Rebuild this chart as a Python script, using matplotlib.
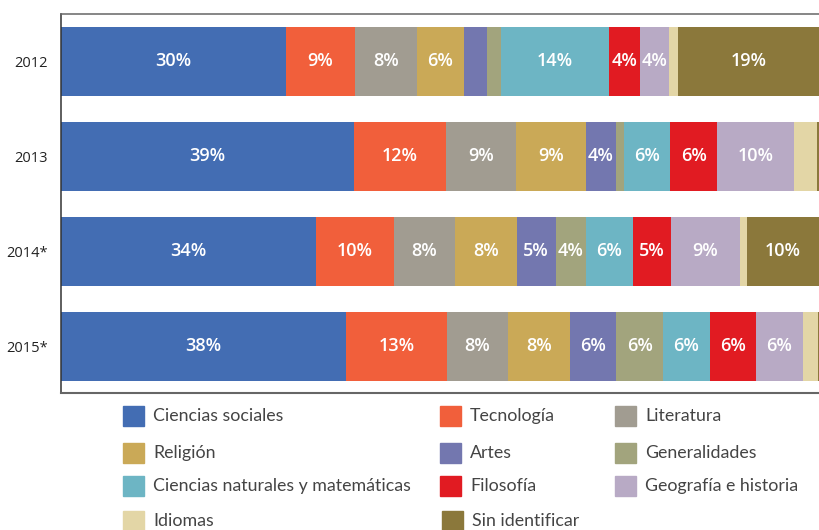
import numpy as np
import matplotlib.pyplot as plt
from matplotlib.patches import Rectangle

years = ["2012", "2013", "2014*", "2015*"]
categorias = ["Ciencias sociales", "Tecnología", "Literatura", "Religión", "Artes",
              "Generalidades", "Ciencias naturales y matemáticas", "Filosofía",
              "Geografía e historia", "Idiomas", "Sin identificar"]
colores = ["#436DB3", "#F15F3B", "#A19C91", "#CAA957", "#7377AF", "#A2A47D",
           "#6DB5C4", "#E11B22", "#B8AAC5", "#E3D6A6", "#8B783B"]

# porcentajes por año (mismo orden que categorias)
v2012 = [29.6, 9.2, 8.1, 6.2, 3.0, 1.9, 14.2, 4.1, 3.9, 1.1, 18.7]
v2013 = [38.6, 12.2, 9.2, 9.2, 4.0, 1.0, 6.1, 6.2, 10.2, 3.0, 0.3]
v2014 = [33.6, 10.3, 8.0, 8.2, 5.1, 4.0, 6.2, 5.0, 9.1, 0.9, 9.6]
v2015 = [37.6, 13.3, 8.0, 8.2, 6.1, 6.2, 6.1, 6.1, 6.2, 2.0, 0.2]
valores = np.array([v2012, v2013, v2014, v2015])

plt.rcParams['font.family'] = ['Open Sans', 'DejaVu Sans']

fig = plt.figure(figsize=(8.19, 5.30), dpi=100)
ax = fig.add_axes([61 / 819, 137 / 530, 758.5 / 819, 379 / 530])

y = np.arange(len(years))
left = np.zeros(len(years))
for j, cat in enumerate(categorias):
    w = valores[:, j]
    ax.barh(y, w, left=left, height=0.726, color=colores[j], label=cat)
    for i in range(len(years)):
        if w[i] >= 3.5:
            ax.text(left[i] + w[i] / 2, y[i], f"{w[i]:.0f}%", ha="center", va="center",
                    color="white", fontsize=13, fontweight="semibold")
    left += w

ax.set_xlim(0, 100)
ax.set_ylim(3.49, -0.5)
ax.set_xticks([])
ax.set_yticks(y)
ax.set_yticklabels(years, fontsize=10.5, color="#222222")
ax.tick_params(axis="y", length=0, pad=9.5)
ax.spines["right"].set_visible(False)
ax.spines["top"].set_color("#666666")
ax.spines["top"].set_linewidth(1.1)
ax.spines["bottom"].set_color("#666666")
ax.spines["bottom"].set_linewidth(1.5)
ax.spines["left"].set_color("#333333")
ax.spines["left"].set_linewidth(1.1)

# leyenda manual (3 columnas)
col_x = [123, 440, 615]
fila_y = [416, 453, 486, 521]
for k, cat in enumerate(categorias):
    fila, col = divmod(k, 3)
    x0 = col_x[col] + (2 if k == 10 else 0)
    yc = fila_y[fila]
    fig.patches.append(Rectangle((x0 / 819, (530 - yc - 10) / 530), 21 / 819, 20 / 530,
                                 transform=fig.transFigure, color=colores[k]))
    fig.text((x0 + 30) / 819, (530 - yc) / 530, cat, ha="left", va="center",
             fontsize=12.8, color="#444444",
             family=['Lato', 'DejaVu Sans'])

fig.savefig("out.png", dpi=100)
